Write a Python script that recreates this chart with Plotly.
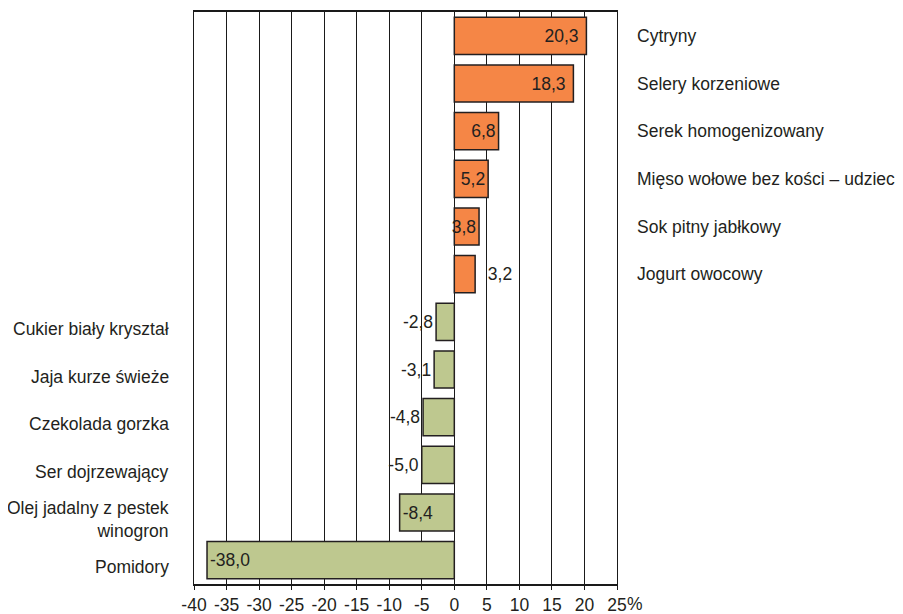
import plotly.graph_objects as go

categories = [
    "Cytryny",
    "Selery korzeniowe",
    "Serek homogenizowany",
    "Mięso wołowe bez kości – udziec",
    "Sok pitny jabłkowy",
    "Jogurt owocowy",
    "Cukier biały kryształ",
    "Jaja kurze świeże",
    "Czekolada gorzka",
    "Ser dojrzewający",
    "Olej jadalny z pestek<br>winogron",
    "Pomidory",
]
values = [20.3, 18.3, 6.8, 5.2, 3.8, 3.2, -2.8, -3.1, -4.8, -5.0, -8.4, -38.0]
tick_vals = [-40, -35, -30, -25, -20, -15, -10, -5, 0, 5, 10, 15, 20, 25]
tick_text = ["-40", "-35", "-30", "-25", "-20", "-15", "-10", "-5", "0", "5", "10", "15", "20", "25"]
unit_label = "%"

# style lists (kept separate from data)
label_positions = ["inside", "inside", "inside", "inside", "inside", "outside",
                   "outside", "outside", "outside", "outside", "inside", "inside"]

ORANGE = "#F58646"
GREEN = "#BEC88F"
DARK = "#231F20"
FONT = "Liberation Sans, Arial, sans-serif"
FS = 17.5

colors = [ORANGE if v > 0 else GREEN for v in values]
texts = []
for v, pos in zip(values, label_positions):
    t = f"{v:.1f}".replace(".", ",")
    if pos == "outside" and v > 0:
        t = "\u00a0\u00a0" + t
    elif pos == "inside" and v > 10:
        t = t + "\u00a0"
    texts.append(t)

fig = go.Figure()
fig.add_trace(go.Bar(
    y=categories,
    x=values,
    orientation="h",
    marker=dict(color=colors, line=dict(color=DARK, width=1.5)),
    text=texts,
    textposition=label_positions,
    insidetextanchor="end",
    constraintext="none",
    textangle=0,
    cliponaxis=False,
    textfont=dict(family=FONT, size=FS, color=DARK),
    insidetextfont=dict(family=FONT, size=FS, color=DARK),
    outsidetextfont=dict(family=FONT, size=FS, color=DARK),
    hoverinfo="skip",
))

for cat, v in zip(categories, values):
    if v > 0:
        fig.add_annotation(x=1, xref="paper", y=cat, yref="y", text=cat,
                           xanchor="left", xshift=18, showarrow=False,
                           font=dict(family=FONT, size=FS, color=DARK))
    else:
        fig.add_annotation(x=0, xref="paper", y=cat, yref="y", text=cat,
                           xanchor="right", xshift=-23, yshift=-7, showarrow=False,
                           align="right",
                           font=dict(family=FONT, size=FS, color=DARK))

# percent sign following the last tick label
fig.add_annotation(x=tick_vals[-1], xref="x", y=0, yref="paper", text=unit_label,
                   xanchor="left", yanchor="top", xshift=9, yshift=-9,
                   showarrow=False, borderpad=0,
                   font=dict(family=FONT, size=FS, color=DARK))

# the page body has an 8px default margin, so margins are offset by 8px
fig.update_layout(
    width=903, height=614,
    margin=dict(l=186, r=294, t=4, b=38),
    paper_bgcolor="white", plot_bgcolor="white",
    bargap=0.22,
    showlegend=False,
    font=dict(family=FONT, size=FS, color=DARK),
)
fig.update_xaxes(
    range=[-40, 25],
    tickvals=tick_vals, ticktext=tick_text,
    tickangle=0,
    showgrid=True, gridcolor="#1a1a1a", gridwidth=1,
    zeroline=False,
    showline=True, linecolor="#1a1a1a", linewidth=1.5, mirror=True,
    ticks="outside", ticklen=4, tickcolor="#1a1a1a",
    tickfont=dict(family=FONT, size=FS, color=DARK),
    automargin=False,
    fixedrange=True,
)
fig.update_yaxes(
    autorange="reversed",
    showticklabels=False,
    showgrid=False,
    showline=True, linecolor="#1a1a1a", linewidth=1, mirror=True,
    automargin=False,
    fixedrange=True,
)

fig.write_html("out.html")
